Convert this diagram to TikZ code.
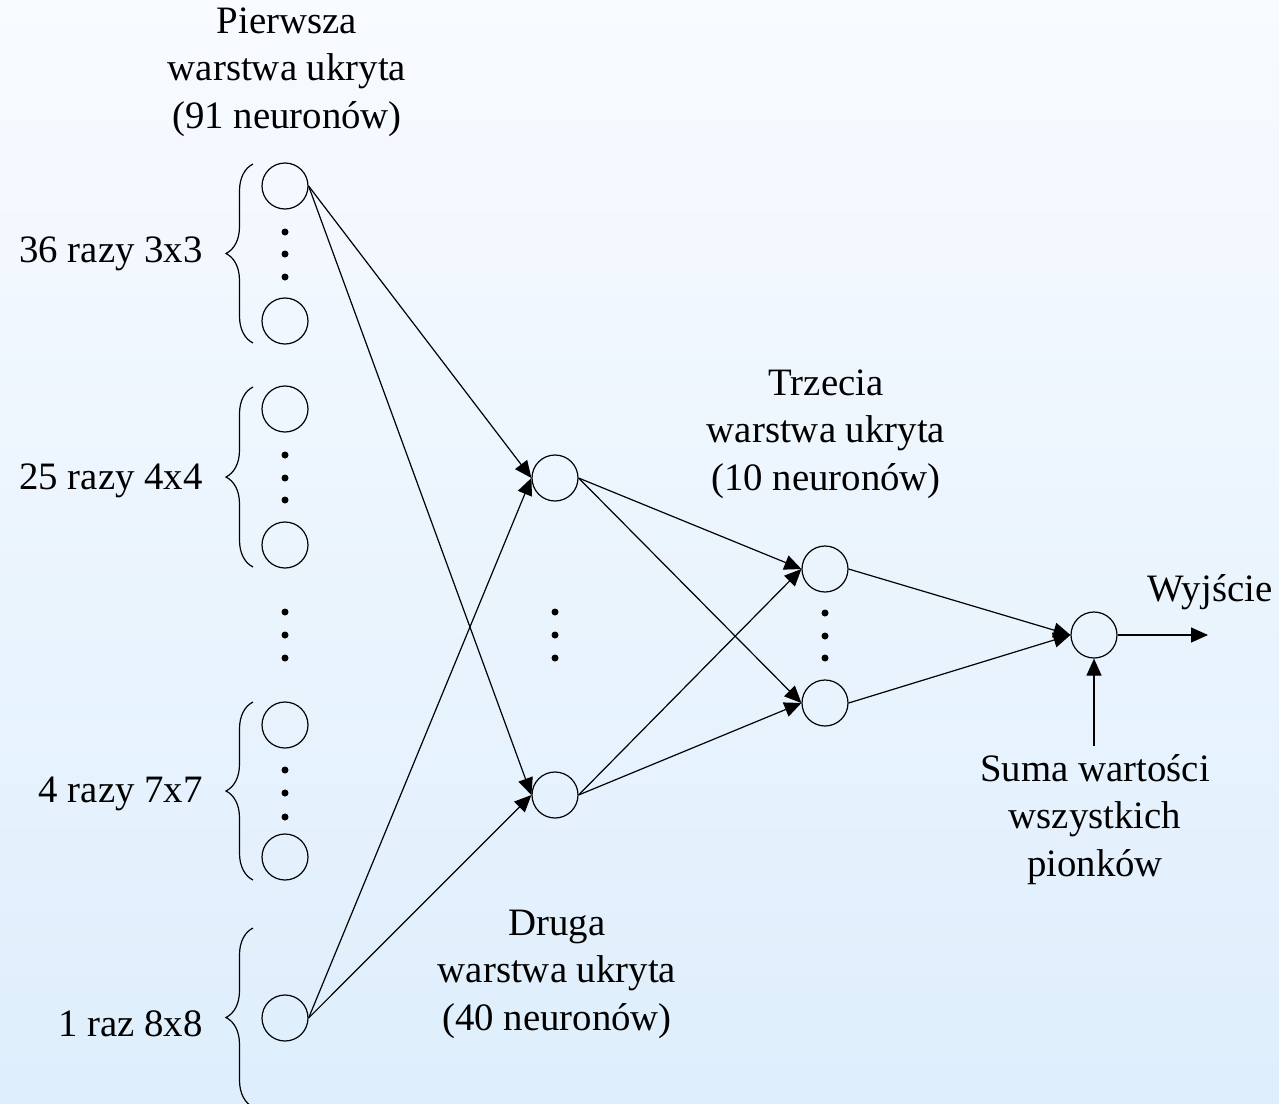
\documentclass[tikz,border=0pt]{standalone}
\usepackage{fontspec}
\setmainfont{Liberation Serif}
\usetikzlibrary{arrows.meta,decorations.pathreplacing}
\begin{document}
\begin{tikzpicture}[x=0.5pt,y=0.5pt,
  neuron/.style={circle,draw,line width=0.6pt,minimum size=23pt,inner sep=0pt},
  lbl/.style={align=center,inner sep=0pt,font=\fontsize{19.4}{23.75}\selectfont},
  conn/.style={line width=0.6pt},
  arr/.style={line width=0.6pt,-{Triangle[length=8.5pt,width=7.5pt]}},
  dotf/.style={fill=black},
  brc/.style={decorate,decoration={brace,amplitude=13.5pt},line width=0.6pt}]
\fill[top color={rgb,255:red,248;green,251;blue,255},bottom color={rgb,255:red,222;green,238;blue,252}] (0,0) rectangle (1279,-1103);
\useasboundingbox (0,0) rectangle (1279,-1103);
% layer 1
\node[neuron] (a1) at (285,-186) {};
\node[neuron] (a2) at (285,-321) {};
\node[neuron] (a3) at (285,-409) {};
\node[neuron] (a4) at (285,-545) {};
\node[neuron] (a5) at (285,-725) {};
\node[neuron] (a6) at (285,-857) {};
\node[neuron] (a7) at (285,-1018) {};
\foreach \y in {232,254,277, 455,478,500, 612,635,658, 770,793,817}
  \fill[dotf] (285,-\y) circle (3.5);
% layer 2
\node[neuron] (b1) at (555,-478) {};
\node[neuron] (b2) at (555,-795) {};
\foreach \y in {612,635,658} \fill[dotf] (555,-\y) circle (3.5);
% layer 3
\node[neuron] (c1) at (825,-569) {};
\node[neuron] (c2) at (825,-703) {};
\foreach \y in {613,636,658} \fill[dotf] (825,-\y) circle (3.5);
% output
\node[neuron] (o) at (1094,-635) {};
\coordinate (out) at (1208,-635);
\coordinate (sum) at (1094,-746);
% braces
\draw[brc] (253,-343) -- (253,-164);
\draw[brc] (253,-567) -- (253,-387);
\draw[brc] (253,-880) -- (253,-702);
\draw[brc] (253,-1107) -- (253,-928);
% group labels
\node[lbl,anchor=east] (g1) at (203,-254) {36 razy 3x3};
\node[lbl,anchor=east] (g2) at (203,-481) {25 razy 4x4};
\node[lbl,anchor=east] (g3) at (203,-794) {4 razy 7x7};
\node[lbl,anchor=east] (g4) at (203,-1024) {1 raz 8x8};
% titles
\node[lbl] (t1) at (287,-72) {Pierwsza\\warstwa ukryta\\(91 neuronów)};
\node[lbl] (t3) at (826,-434) {Trzecia\\warstwa ukryta\\(10 neuronów)};
\node[lbl] (t2) at (557,-974) {Druga\\warstwa ukryta\\(40 neuronów)};
\node[lbl] (w) at (1210,-592) {Wyjście};
\node[lbl,anchor=north] (s) at (1095,-754) {Suma wartości\\wszystkich\\pionków};
% connections
\draw[arr] (a1.east) -- (b1.west);
\draw[arr] (a1.east) -- (b2.west);
\draw[arr] (a7.east) -- (b1.west);
\draw[arr] (a7.east) -- (b2.west);
\draw[arr] (b1.east) -- (c1.west);
\draw[arr] (b1.east) -- (c2.west);
\draw[arr] (b2.east) -- (c1.west);
\draw[arr] (b2.east) -- (c2.west);
\draw[arr] (c1.east) -- (o.west);
\draw[arr] (c2.east) -- (o.west);
\draw[arr] (o.east) -- (out);
\draw[arr] (sum) -- (o.south);
\end{tikzpicture}
\end{document}
